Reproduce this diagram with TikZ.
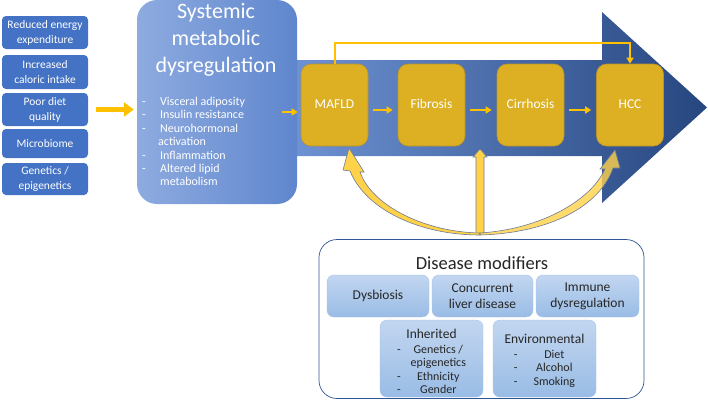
\documentclass[tikz,border=0pt]{standalone}
\usepackage{fontspec}
\setmainfont{Carlito}
\usetikzlibrary{arrows.meta,calc}
\definecolor{causeblue}{HTML}{4472C4}
\definecolor{sysleft}{HTML}{8EABE0}
\definecolor{sysright}{HTML}{5F86CD}
\definecolor{bodyleft}{HTML}{759ADB}
\definecolor{bodymid}{HTML}{4472C4}
\definecolor{bodyright}{HTML}{26467F}
\definecolor{stagegold}{HTML}{DDB024}
\definecolor{stageedge}{HTML}{B8922A}
\definecolor{flowyellow}{HTML}{FFC000}
\definecolor{blockfill}{HTML}{FFD24A}
\definecolor{blockedge}{HTML}{6E7B96}
\definecolor{modtop}{HTML}{C2D6F0}
\definecolor{modbottom}{HTML}{99BCE5}
\definecolor{modedge}{HTML}{A7C2E6}
\definecolor{frameblue}{HTML}{2F5597}
\definecolor{darktext}{HTML}{262626}
\tikzstyle{cause}=[rectangle,rounded corners=4pt,fill=causeblue,text=white,align=center,minimum width=86pt,inner sep=0pt,font=\fontsize{11.5}{15}\selectfont]
\tikzstyle{stage}=[rectangle,rounded corners=10pt,fill=stagegold,draw=stageedge,line width=0.6pt,text=white,minimum width=67pt,minimum height=82pt,inner sep=0pt,font=\fontsize{13.5}{16}\selectfont]
\tikzstyle{flow}=[draw=flowyellow,line width=2.5pt,-{Triangle[length=6pt,width=7pt]}]
\tikzstyle{bigflow}=[draw=flowyellow,line width=5pt,-{Triangle[length=10pt,width=14pt]}]
\tikzstyle{block}=[fill=blockfill,draw=blockedge,line width=0.6pt]
\tikzstyle{modifier}=[rectangle,rounded corners=7pt,top color=modtop,bottom color=modbottom,draw=modedge,text=darktext,align=center,inner sep=0pt,font=\fontsize{13.5}{16}\selectfont]
\tikzstyle{modtext}=[text=darktext,align=center,inner sep=0pt,font=\fontsize{13.5}{16}\selectfont]

\begin{document}
\begin{tikzpicture}[x=1pt,y=-1pt]
    \useasboundingbox (0,0) rectangle (708,400);

    % big arrow behind the stages
    \path[left color=bodyleft,middle color=bodymid,right color=bodyright]
        (250,60) -- (602,60) -- (602,12) -- (707,107.5) -- (602,203) -- (602,156) -- (250,156) -- cycle;

    % causes
    \foreach \y/\h/\name/\txt in {32.5/33/red/{Reduced energy\\expenditure}, 72/34/cal/{Increased\\caloric intake},
        109.5/33/diet/{Poor diet\\quality}, 143.5/29/micro/{Microbiome}, 179/32/gen/{Genetics /\\epigenetics}}
        \node[cause,minimum height=\h pt] (\name) at (45,\y) {\txt};

    % systemic box
    \node[rectangle,rounded corners=20pt,left color=sysleft,right color=sysright,minimum width=160pt,minimum height=204pt] (sys) at (217,102) {};
    \node[text=white,align=center,font=\fontsize{22}{27}\selectfont] (systitle) at (216,40) {Systemic\\metabolic\\dysregulation};
    \node[text=white,anchor=north west,inner sep=0pt,font=\fontsize{12}{13.4}\selectfont] (syslist) at (142,96)
        {\begin{tabular}{@{}p{18pt}@{}l@{}}
        - & Visceral adiposity\\
        - & Insulin resistance\\
        - & Neurohormonal\\
          & \hspace{-2pt}activation\\
        - & Inflammation\\
        - & Altered lipid\\
          & metabolism
        \end{tabular}};
    \draw[bigflow] ([xshift=8pt]diet.east) -- ([xshift=-3pt]diet.east -| sys.west);

    % stages
    \foreach \x/\name/\txt in {334.5/mafld/MAFLD, 431.5/fib/Fibrosis, 530.5/cir/Cirrhosis, 630/hcc/HCC}
        \node[stage] (\name) at (\x,105) {\raisebox{2pt}{\txt}};

    \draw[flow] ([xshift=-19pt,yshift=-7pt]mafld.west) -- ([xshift=-3pt,yshift=-7pt]mafld.west);
    \foreach \source/\dest in {mafld/fib, fib/cir, cir/hcc}
        \draw[flow,shorten <=5pt,shorten >=5pt] ([yshift=-5pt]\source.east) -- ([yshift=-5pt]\dest.west);
    \draw[flow,line width=2pt,-{Triangle[length=6pt,width=7pt]}] (mafld.north) -- ++(0,-21) -| (hcc.north);

    % disease modifiers
    \node[rectangle,rounded corners=18pt,draw=frameblue,line width=0.7pt,fill=white,minimum width=325pt,minimum height=159pt] (dm) at (481.5,319) {};
    \coordinate (root) at (480,235);
    \path[block] (root) ++(-4,-1) -- (476,157) -- (473,157) -- (480,149) -- (487,157) -- (484,157) -- ($(root)+(4,-1)$) -- cycle;
    \path[block] (root) .. controls (420,235) and (366,210) .. (350,171) -- (343,170) -- (349,148) -- (364,172)
        -- (360,172) .. controls (372,206) and (425,232) .. ($(root)+(0,-2)$) -- cycle;
    \path[block,fill opacity=0.8] (root) .. controls (550,233) and (600,206) .. (613,168) -- (620,168) -- (615,150) -- (600,169)
        -- (605,169) .. controls (591,200) and (542,229) .. ($(root)+(0,-2)$) -- cycle;

    \node[text=darktext,font=\fontsize{18.5}{22}\selectfont] (dmtitle) at (482,263) {Disease modifiers};
    \foreach \x/\w/\name/\txt in {378/102/dys/{Dysbiosis}, 482.5/101/conc/{Concurrent\\liver disease}, 587.5/103/imm/{Immune\\dysregulation}}
        \node[modifier,minimum width=\w pt,minimum height=42pt] (\name) at (\x,296) {\txt};
    \node[modifier,minimum width=103pt,minimum height=77pt] (inh) at (431.5,358.5) {};
    \node[modifier,minimum width=103pt,minimum height=77pt] (env) at (544.5,358.5) {};
    \node[modtext,anchor=north] (inhtext) at ([yshift=-9pt]inh.north)
        {Inherited\\[-1pt]{\fontsize{12}{13.5}\selectfont\begin{tabular}[t]{@{}c@{\hspace{10pt}}c@{}}
        - & Genetics /\\ & epigenetics\\ - & Ethnicity\\ - & Gender\end{tabular}}};
    \node[modtext,anchor=north] (envtext) at ([yshift=-14pt]env.north)
        {Environmental\\[-1pt]{\fontsize{12}{13.5}\selectfont\begin{tabular}[t]{@{}c@{\hspace{16pt}}c@{}}
        - & Diet\\ - & Alcohol\\ - & Smoking\end{tabular}}};
\end{tikzpicture}
\end{document}
